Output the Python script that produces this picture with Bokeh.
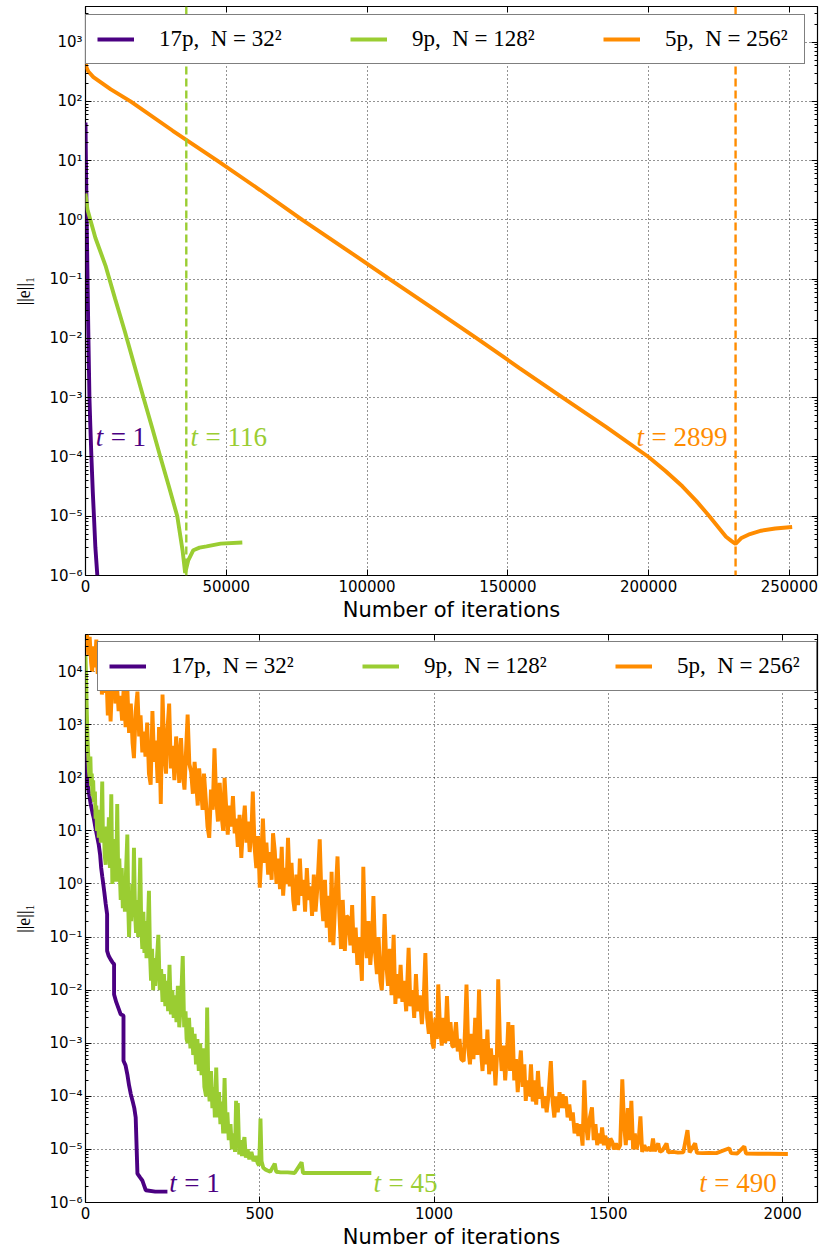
from bokeh.plotting import figure
from bokeh.models import (Range1d, FixedTicker, LogAxis, LinearAxis, Legend,
                          LegendItem, Label, Span, CustomJSTickFormatter,
                          BasicTickFormatter)
from bokeh.layouts import column
from bokeh.embed import file_html
from bokeh.resources import INLINE

# ---------------- data ----------------
SERIES_LABELS = ["17p,  N = 32²", "9p,  N = 128²", "5p,  N = 256²"]
SERIES_COLORS = ["#4B0082", "#9ACD32", "#FF8C00"]
X_LABEL = "Number of iterations"
Y_LABEL = "||e||₁"

top_x_ticks = [0, 50000, 100000, 150000, 200000, 250000]
bottom_x_ticks = [0, 500, 1000, 1500, 2000]
y_exponents = list(range(-6, 5))

# top panel (smooth convergence)
top_17p_iter = [0, 150, 400, 700, 1000, 1400, 1700, 2100, 2600, 3000, 3500, 4200]
top_17p_err = [44, 10, 1.2, 0.12, 0.013, 1.0e-3, 3.5e-4, 1.0e-4, 2.5e-5, 1.0e-5, 3.0e-6, 1.0e-6]

top_9p_iter = [0, 700, 3500, 7100, 10500, 14000, 17300, 20600, 23600, 26600,
               29600, 32600, 34500, 35400, 36500, 38300, 40500, 43000, 48000, 55700]
top_9p_err = [2.8, 1.5, 0.5, 0.17, 0.047, 0.013, 3.6e-3, 1.0e-3, 3.2e-4, 1.0e-4,
              3.2e-5, 1.0e-5, 2.6e-6, 1.1e-6, 1.8e-6, 2.67e-6, 2.95e-6, 3.1e-6, 3.45e-6, 3.6e-6]

top_5p_iter = [0, 300, 1000, 2800, 9000, 16000, 31000, 46800, 62000, 77000,
               92500, 108000, 123500, 139000, 154000, 169500, 185000, 200000, 206000, 212000,
               217000, 221600, 227500, 229500, 230900, 233000, 236000, 240000, 245000, 251000]
top_5p_err = [465, 380, 320, 257, 160, 100, 32, 10, 3.2, 1.0,
              0.32, 0.1, 0.032, 0.01, 3.2e-3, 1.0e-3, 3.2e-4, 1.0e-4, 5.8e-5, 3.2e-5,
              1.8e-5, 1.0e-5, 4.5e-6, 3.8e-6, 3.4e-6, 4.3e-6, 5.0e-6, 5.7e-6, 6.2e-6, 6.6e-6]

top_stop_9p = 35800
top_stop_5p = 230900
top_t_values = ["1", "116", "2899"]
top_t_iter = [3600, 37300, 195700]
top_t_err = 2.2e-4

# bottom panel (noisy convergence)
bottom_17p_iter = [0, 5, 10, 15, 20, 24, 29, 34, 38, 42,
                   45, 48, 51, 54, 58, 62, 62, 66, 72, 78,
                   82, 82, 88, 95, 101, 106, 109, 109, 115, 120,
                   125, 130, 135, 140, 144, 149, 156, 163, 168, 173,
                   200, 235]
bottom_17p_err = [300, 85, 50, 32, 22, 17, 11, 7.5, 5.5, 3.5,
                  2.0, 1.4, 1.0, 0.7, 0.42, 0.27, 0.055, 0.045, 0.038, 0.033,
                  0.031, 0.0083, 0.006, 0.0045, 0.0035, 0.0034, 0.0033, 0.00047, 0.00038, 0.00026,
                  0.00016, 0.00011, 8.2e-5, 6e-5, 4e-5, 3.5e-6, 3e-6, 2.6e-6, 2.1e-6, 1.7e-6,
                  1.6e-6, 1.6e-6]

bottom_9p_iter = [0, 2, 4, 6, 8, 10, 12, 14, 16, 18,
                  20, 22, 24, 27, 29, 31, 33, 36, 38, 41,
                  44, 48, 50, 53, 55, 58, 61, 64, 67, 70,
                  74, 77, 80, 82, 85, 88, 91, 94, 97, 101,
                  104, 107, 110, 113, 116, 120, 123, 125, 128, 131,
                  134, 136, 139, 142, 145, 148, 151, 154, 157, 160,
                  163, 166, 169, 172, 175, 179, 182, 185, 188, 191,
                  194, 197, 200, 204, 209, 213, 217, 221, 225, 229,
                  233, 237, 241, 245, 249, 253, 257, 261, 265, 269,
                  274, 279, 283, 287, 290, 293, 297, 301, 305, 309,
                  313, 317, 321, 325, 329, 333, 337, 341, 346, 349,
                  352, 356, 360, 364, 368, 371, 375, 379, 383, 387,
                  391, 395, 399, 403, 407, 411, 416, 420, 425, 429,
                  432, 435, 437, 441, 445, 449, 452, 456, 460, 465,
                  470, 476, 482, 488, 494, 498, 500, 502, 505, 510,
                  516, 522, 530, 543, 547, 560, 580, 600, 620, 624,
                  660, 700, 760, 820]
bottom_9p_err = [2e4, 6000, 1500, 500, 250, 130, 100, 250, 70, 120,
                 45, 90, 35, 55, 17, 30, 10, 25, 7.4, 18,
                 6, 85, 8, 10, 3.5, 2.3, 12, 3, 18, 2,
                 49, 1, 5, 1.3, 7, 1.1, 32, 1.2, 3, 0.5,
                 2, 0.35, 1.2, 0.3, 1.5, 8.5, 0.3, 0.1, 0.6, 0.2,
                 1, 0.25, 4.8, 0.3, 0.12, 0.5, 0.1, 0.4, 3.1, 0.15,
                 0.06, 0.3, 0.05, 0.2, 0.04, 0.15, 0.74, 0.05, 0.015, 0.06,
                 0.01, 0.04, 0.012, 0.03, 0.11, 0.01, 0.025, 0.006, 0.02, 0.005,
                 0.015, 0.004, 0.03, 0.0035, 0.01, 0.003, 0.008, 0.0025, 0.012, 0.002,
                 0.006, 0.044, 0.002, 0.004, 0.0012, 0.001, 0.003, 0.0008, 0.002, 0.0006,
                 0.0015, 0.0004, 0.0012, 0.0003, 0.001, 0.00025, 0.0008, 0.00015, 0.0001, 0.0047,
                 0.0002, 8e-5, 3e-4, 6e-5, 1.5e-4, 4e-5, 3.5e-4, 4e-5, 1.2e-4, 3e-5,
                 8e-5, 2e-5, 2.2e-4, 2e-5, 5e-5, 1.5e-5, 3e-5, 1e-5, 2e-5, 9e-6,
                 8.2e-5, 1.2e-5, 7.5e-5, 8e-6, 1.5e-5, 7.5e-6, 1.2e-5, 1.7e-5, 7e-6, 1e-5,
                 6.5e-6, 9e-6, 6e-6, 7.5e-6, 5.5e-6, 5e-6, 1.2e-5, 3.8e-5, 6e-6, 4.5e-6,
                 4.2e-6, 4e-6, 3.8e-6, 5.4e-6, 3.8e-6, 3.7e-6, 3.7e-6, 3.6e-6, 5.7e-6, 3.6e-6,
                 3.6e-6, 3.6e-6, 3.6e-6, 3.6e-6]

bottom_5p_iter = [0, 4, 8, 12, 16, 19, 23, 27, 31, 35,
                  39, 43, 47, 52, 56, 60, 64, 68, 72, 77,
                  82, 86, 90, 95, 100, 105, 110, 115, 120, 125,
                  130, 135, 139, 144, 149, 154, 158, 163, 168, 172,
                  177, 182, 187, 192, 197, 202, 207, 211, 216, 221,
                  226, 231, 235, 240, 245, 250, 255, 260, 264, 269,
                  274, 279, 284, 289, 293, 298, 303, 308, 313, 318,
                  322, 326, 331, 336, 340, 345, 350, 355, 360, 365,
                  370, 375, 380, 385, 390, 395, 399, 404, 408, 413,
                  418, 423, 428, 432, 437, 442, 447, 452, 457, 462,
                  466, 471, 476, 480, 485, 490, 495, 500, 504, 509,
                  514, 519, 524, 529, 534, 538, 543, 548, 553, 558,
                  563, 567, 572, 577, 581, 586, 591, 596, 600, 605,
                  610, 615, 620, 625, 630, 635, 640, 645, 650, 655,
                  660, 665, 672, 677, 682, 687, 692, 697, 702, 706,
                  711, 716, 723, 728, 733, 738, 744, 749, 754, 760,
                  765, 770, 775, 780, 786, 793, 797, 802, 807, 812,
                  817, 822, 826, 831, 836, 841, 846, 850, 855, 858,
                  863, 868, 873, 878, 884, 889, 894, 899, 904, 909,
                  914, 920, 927, 932, 938, 943, 948, 953, 959, 965,
                  970, 975, 980, 985, 990, 995, 999, 1004, 1008, 1012,
                  1017, 1022, 1027, 1032, 1037, 1042, 1047, 1052, 1056, 1063,
                  1068, 1073, 1078, 1085, 1089, 1093, 1098, 1103, 1108, 1113,
                  1118, 1124, 1129, 1134, 1139, 1144, 1149, 1153, 1158, 1163,
                  1168, 1172, 1176, 1180, 1184, 1189, 1194, 1199, 1204, 1209,
                  1213, 1218, 1225, 1230, 1235, 1240, 1244, 1249, 1254, 1259,
                  1263, 1268, 1273, 1278, 1283, 1288, 1293, 1298, 1303, 1308,
                  1313, 1318, 1323, 1328, 1335, 1340, 1345, 1350, 1355, 1360,
                  1365, 1369, 1373, 1378, 1383, 1388, 1393, 1398, 1403, 1409,
                  1414, 1420, 1426, 1431, 1436, 1441, 1447, 1453, 1458, 1463,
                  1468, 1473, 1478, 1482, 1487, 1491, 1495, 1500, 1506, 1511,
                  1516, 1522, 1528, 1534, 1540, 1545, 1550, 1556, 1561, 1566,
                  1571, 1576, 1581, 1587, 1592, 1597, 1603, 1610, 1618, 1623,
                  1628, 1633, 1643, 1648, 1655, 1667, 1672, 1685, 1700, 1715,
                  1727, 1733, 1749, 1754, 1770, 1790, 1810, 1847, 1852, 1870,
                  1890, 1895, 1930, 1960, 2015]
bottom_5p_err = [9e4, 6e4, 2e4, 4.5e4, 1.5e4, 1e4, 3e4, 1.2e4, 4e4, 9e3,
                 2e4, 3.6e4, 3700, 1.2e4, 4000, 9000, 1500, 6000, 1150, 8000,
                 3.2e4, 2500, 6000, 1800, 3500, 1200, 5700, 900, 5000, 700,
                 2500, 450, 235, 1800, 4200, 600, 1500, 300, 740, 250,
                 1100, 120, 74, 1800, 200, 500, 80, 900, 32, 3700,
                 300, 120, 800, 2500, 150, 400, 90, 600, 275, 80,
                 560, 120, 60, 400, 1550, 180, 130, 50, 200, 70,
                 30, 150, 63, 25, 120, 40, 12, 7.4, 60, 25,
                 360, 40, 15, 80, 20, 10, 100, 25, 8.5, 30,
                 12, 45, 9, 17, 5, 20, 3.1, 12, 30, 6,
                 15, 4, 10, 55, 5, 2, 8, 0.85, 3, 17,
                 2.5, 6, 1.5, 4, 1.2, 9, 4.2, 1, 3, 0.8,
                 5, 0.6, 2, 1, 7.4, 0.9, 2.5, 0.5, 0.31, 1.5,
                 0.4, 3, 0.6, 1.2, 0.3, 2, 0.5, 0.9, 0.25, 1.5,
                 0.3, 0.8, 6.9, 0.55, 0.2, 1.2, 0.15, 0.6, 0.08, 1.7,
                 0.07, 0.4, 3.3, 0.3, 0.06, 0.5, 0.055, 0.25, 0.23, 0.07,
                 0.4, 0.05, 0.15, 0.03, 0.1, 0.015, 2.1, 0.1, 0.04, 0.2,
                 0.03, 0.08, 0.59, 0.05, 0.02, 0.1, 0.015, 0.01, 0.05, 0.27,
                 0.03, 0.012, 0.06, 0.008, 0.11, 0.0055, 0.02, 0.007, 0.03, 0.006,
                 0.015, 0.004, 0.063, 0.005, 0.01, 0.003, 0.02, 0.004, 0.008, 0.0023,
                 0.006, 0.05, 0.003, 0.0015, 0.004, 0.001, 0.0008, 0.003, 0.0012, 0.0128,
                 0.002, 0.0009, 0.003, 0.001, 0.0077, 0.0011, 0.0025, 0.0009, 0.00084, 0.0025,
                 0.0007, 0.0012, 0.0005, 0.00046, 0.002, 0.0128, 0.0008, 0.0004, 0.0015, 0.0005,
                 0.003, 0.0006, 0.0103, 0.0008, 0.0003, 0.0012, 0.0004, 0.0018, 0.00026, 0.0008,
                 0.0003, 0.0006, 0.00016, 0.0005, 0.016, 0.001, 0.0003, 0.0009, 0.0002, 0.0006,
                 0.0025, 0.0003, 0.0022, 0.0002, 0.0005, 0.00012, 0.0003, 0.00073, 0.00015, 0.0004,
                 8.2e-5, 2e-4, 1e-4, 4e-4, 8e-5, 2e-4, 7e-5, 3e-4, 9e-5, 1.5e-4,
                 6e-5, 1e-4, 5e-5, 1e-4, 4.6e-4, 8e-5, 4e-5, 1e-4, 5e-5, 1.2e-4,
                 6e-5, 1.1e-4, 6e-5, 1e-4, 4e-5, 7e-5, 3.5e-5, 5e-5, 2e-5, 3.1e-5,
                 1.8e-5, 3e-5, 1.18e-5, 2e-4, 3e-5, 1.5e-5, 4e-5, 6.2e-5, 1.5e-5, 3e-5,
                 1.2e-5, 2e-5, 1.3e-5, 2.6e-5, 1.2e-5, 1.8e-5, 1.5e-5, 1e-5, 1.6e-5, 1.4e-5,
                 1e-5, 1.3e-5, 1e-5, 1.2e-5, 2.1e-4, 3e-5, 1.2e-5, 6e-5, 1.5e-5, 8.2e-5,
                 1e-5, 2e-5, 1e-5, 1.5e-5, 4.2e-5, 9e-6, 1.2e-5, 9.5e-6, 1.1e-5, 9.2e-6,
                 1.6e-5, 9.2e-6, 1.3e-5, 9e-6, 9.5e-6, 1.3e-5, 8.8e-6, 9e-6, 8.7e-6, 8.8e-6,
                 2.3e-5, 8.8e-6, 1.3e-5, 8.6e-6, 8.5e-6, 8.6e-6, 8.5e-6, 1.05e-5, 8.5e-6, 8.4e-6,
                 1.14e-5, 8.4e-6, 8.3e-6, 8.3e-6, 8.2e-6]

bottom_t_values = ["1", "45", "490"]
bottom_t_iter = [240, 826, 1761]
bottom_t_err = 2.3e-6

assert len(bottom_5p_iter) == len(bottom_5p_err)
assert len(bottom_9p_iter) == len(bottom_9p_err)
assert len(bottom_17p_iter) == len(bottom_17p_err)

# ---------------- helpers ----------------
y_major = [10.0 ** k for k in y_exponents]
y_minor = [m * 10.0 ** k for k in y_exponents for m in range(2, 10)]

SUP_JS = """
const e = Math.round(Math.log10(tick));
const sup = {"-": "\\u207b", "0": "\\u2070", "1": "\\u00b9", "2": "\\u00b2", "3": "\\u00b3",
             "4": "\\u2074", "5": "\\u2075", "6": "\\u2076", "7": "\\u2077", "8": "\\u2078", "9": "\\u2079"};
return "10" + String(e).split("").map(c => sup[c]).join("");
"""
BLANK_JS = "return ' ';"

LINE_W = 3.9


def style_ticks(ax, minor=True):
    ax.major_tick_in = 6
    ax.major_tick_out = 0
    ax.minor_tick_in = 3
    ax.minor_tick_out = 0
    ax.major_tick_line_color = "black"
    ax.minor_tick_line_color = "black" if minor else None
    ax.axis_line_color = None


def make_panel(xmax, ymax, x_ticks, frame_h, border_top, border_bottom):
    p = figure(frame_width=732, frame_height=frame_h,
               x_range=Range1d(0, xmax), y_range=Range1d(1e-6, ymax),
               y_axis_type="log", output_backend="svg", toolbar_location=None,
               min_border_left=85, min_border_right=10,
               min_border_top=border_top, min_border_bottom=border_bottom,
               outline_line_color="black", outline_line_width=1.2,
               background_fill_color="white", border_fill_color="white")
    xt = FixedTicker(ticks=x_ticks)
    yt = FixedTicker(ticks=y_major, minor_ticks=y_minor)

    xa = p.xaxis[0]
    xa.ticker = xt
    xa.formatter = BasicTickFormatter(use_scientific=False)
    style_ticks(xa, minor=False)
    xa.major_label_text_font = "DejaVu Sans"
    xa.major_label_text_font_size = "15px"
    xa.major_label_text_color = "black"
    xa.major_label_standoff = 4
    xa.axis_label = X_LABEL
    xa.axis_label_text_font = "DejaVu Sans"
    xa.axis_label_text_font_size = "21px"
    xa.axis_label_text_font_style = "normal"
    xa.axis_label_text_color = "black"
    xa.axis_label_standoff = 3

    ya = p.yaxis[0]
    ya.ticker = yt
    ya.formatter = CustomJSTickFormatter(code=SUP_JS)
    style_ticks(ya)
    ya.major_label_text_font = "DejaVu Sans"
    ya.major_label_text_font_size = "15px"
    ya.major_label_text_color = "black"
    ya.major_label_standoff = 3
    ya.axis_label = Y_LABEL
    ya.axis_label_text_font = "Liberation Serif"
    ya.axis_label_text_font_size = "18px"
    ya.axis_label_text_font_style = "normal"
    ya.axis_label_text_color = "black"
    ya.axis_label_standoff = 12

    top_ax = LinearAxis(ticker=xt, formatter=CustomJSTickFormatter(code=BLANK_JS),
                        major_label_text_font_size="1px", major_label_standoff=0)
    style_ticks(top_ax, minor=False)
    p.add_layout(top_ax, "above")
    right_ax = LogAxis(ticker=yt, formatter=CustomJSTickFormatter(code=BLANK_JS),
                       major_label_text_font_size="1px", major_label_standoff=0)
    style_ticks(right_ax)
    p.add_layout(right_ax, "right")

    for g in (p.xgrid[0], p.ygrid[0]):
        g.grid_line_color = "black"
        g.grid_line_dash = "1 3"
        g.grid_line_alpha = 0.85
        g.grid_line_width = 1
    p.xgrid[0].ticker = xt
    p.ygrid[0].ticker = yt
    return p


def add_legend(p, renderers, x, y):
    items = [LegendItem(label=lab, renderers=[r]) for lab, r in zip(SERIES_LABELS, renderers)]
    lg = Legend(items=items, orientation="horizontal", location=(x, y), margin=0,
                padding=11, spacing=63, glyph_width=37, glyph_height=24,
                label_standoff=25, label_width=128, label_height=24,
                label_text_font="Liberation Serif", label_text_font_size="23px",
                label_text_color="black",
                border_line_color="black", border_line_width=1.2,
                background_fill_color="white", background_fill_alpha=1.0)
    p.add_layout(lg)


def add_t(p, x, y, value, color):
    p.add_layout(Label(x=x, y=y, text="t", text_font="Liberation Serif",
                       text_font_style="italic", text_font_size="27px",
                       text_color=color, text_baseline="middle"))
    p.add_layout(Label(x=x, y=y, x_offset=15, text="= " + value,
                       text_font="Liberation Serif", text_font_size="27px",
                       text_color=color, text_baseline="middle"))


# ---------------- top panel ----------------
p1 = make_panel(260000, 4000, top_x_ticks, 569, 6, 53)
for loc, col in ((top_stop_9p, SERIES_COLORS[1]), (top_stop_5p, SERIES_COLORS[2])):
    p1.add_layout(Span(location=loc, dimension="height", line_color=col,
                       line_dash="8 4", line_width=2.4))
r1 = [
    p1.line(top_17p_iter, top_17p_err, line_color=SERIES_COLORS[0], line_width=LINE_W),
    p1.line(top_9p_iter, top_9p_err, line_color=SERIES_COLORS[1], line_width=LINE_W),
    p1.line(top_5p_iter, top_5p_err, line_color=SERIES_COLORS[2], line_width=LINE_W),
]
for xv, val, col in zip(top_t_iter, top_t_values, SERIES_COLORS):
    add_t(p1, xv, top_t_err, val, col)
add_legend(p1, r1, 0, 511)

# ---------------- bottom panel ----------------
p2 = make_panel(2100, 5e4, bottom_x_ticks, 568, 6, 52)
r2 = [
    p2.line(bottom_17p_iter, bottom_17p_err, line_color=SERIES_COLORS[0], line_width=LINE_W),
    p2.line(bottom_9p_iter, bottom_9p_err, line_color=SERIES_COLORS[1], line_width=LINE_W),
    p2.line(bottom_5p_iter, bottom_5p_err, line_color=SERIES_COLORS[2], line_width=LINE_W),
]
for xv, val, col in zip(bottom_t_iter, bottom_t_values, SERIES_COLORS):
    add_t(p2, xv, bottom_t_err, val, col)
add_legend(p2, r2, 12, 511)

layout = column(p1, p2, spacing=0)
open("out.html", "w").write(file_html(layout, INLINE))
